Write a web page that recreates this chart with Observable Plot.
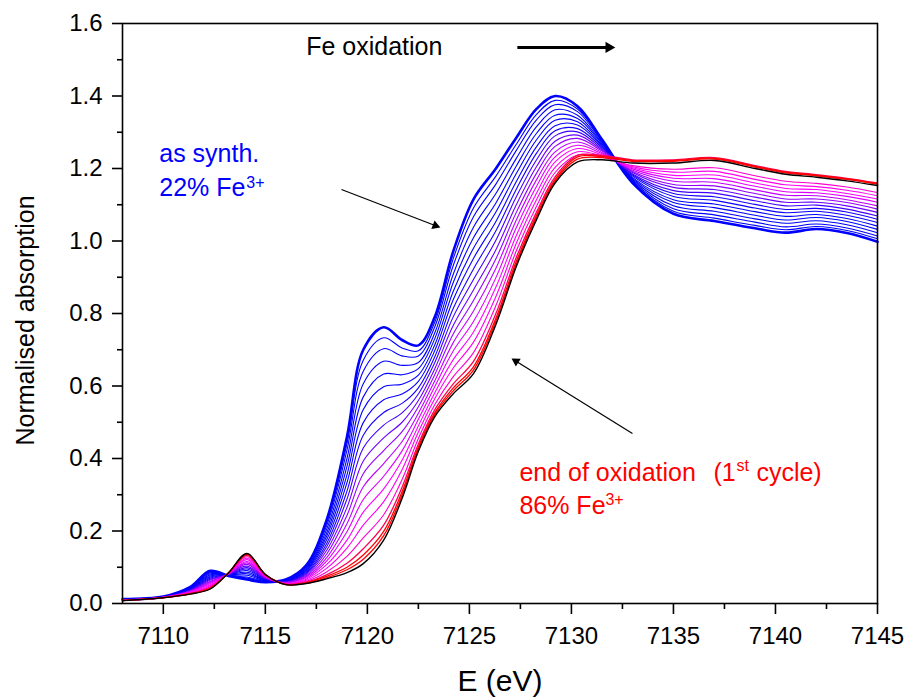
<!DOCTYPE html>
<html><head><meta charset="utf-8">
<script src="https://cdn.jsdelivr.net/npm/d3@7"></script>
<script src="https://cdn.jsdelivr.net/npm/@observablehq/plot@0.6"></script>
<style>html,body{margin:0;padding:0;background:#fff}#chart{width:908px;height:698px}</style>
</head><body><div id="chart"></div>
<script>
// Energy grid (eV)
const energy = [7108, 7110, 7111.3, 7112.3, 7113.2, 7114.1, 7115, 7116, 7117, 7118, 7119, 7119.8, 7120.8, 7121.7, 7122.5, 7123.3, 7124.2, 7125.2, 7126.3, 7127.3, 7128.3, 7129.2, 7130.3, 7131.5, 7133, 7135, 7137, 7139, 7140.5, 7142, 7143.5, 7145];

// Normalised absorption, one named array per spectrum (as synth. -> end of oxidation)
const asSynth = [0.012,0.019,0.045,0.090,0.076,0.066,0.059,0.066,0.105,0.230,0.460,0.700,0.762,0.727,0.712,0.790,0.970,1.115,1.200,1.285,1.365,1.400,1.372,1.280,1.160,1.075,1.055,1.035,1.023,1.033,1.022,0.998];
const scan02 = [0.012,0.019,0.044,0.088,0.076,0.070,0.060,0.065,0.103,0.222,0.441,0.671,0.733,0.705,0.697,0.776,0.950,1.091,1.179,1.267,1.350,1.388,1.364,1.277,1.163,1.082,1.063,1.043,1.031,1.040,1.029,1.006];
const scan03 = [0.012,0.019,0.043,0.085,0.077,0.073,0.061,0.065,0.100,0.214,0.423,0.641,0.703,0.683,0.683,0.763,0.931,1.067,1.157,1.250,1.335,1.376,1.357,1.274,1.166,1.089,1.072,1.052,1.039,1.047,1.036,1.014];
const scan04 = [0.011,0.019,0.042,0.082,0.077,0.078,0.062,0.064,0.097,0.204,0.400,0.606,0.668,0.657,0.665,0.746,0.907,1.038,1.131,1.228,1.316,1.362,1.347,1.271,1.169,1.097,1.082,1.061,1.049,1.056,1.045,1.023];
const scan05 = [0.011,0.018,0.041,0.079,0.078,0.082,0.064,0.063,0.094,0.194,0.378,0.570,0.633,0.631,0.648,0.730,0.884,1.009,1.105,1.207,1.298,1.347,1.338,1.268,1.172,1.106,1.092,1.071,1.058,1.065,1.054,1.032];
const scan06 = [0.011,0.018,0.040,0.076,0.079,0.086,0.065,0.062,0.091,0.185,0.355,0.535,0.598,0.605,0.630,0.713,0.860,0.980,1.080,1.186,1.280,1.333,1.329,1.264,1.175,1.114,1.102,1.081,1.068,1.073,1.062,1.041];
const scan07 = [0.011,0.018,0.039,0.073,0.079,0.091,0.066,0.061,0.088,0.175,0.333,0.499,0.562,0.578,0.613,0.697,0.837,0.952,1.054,1.164,1.261,1.318,1.320,1.261,1.179,1.123,1.112,1.091,1.078,1.082,1.071,1.051];
const scan08 = [0.010,0.018,0.037,0.070,0.080,0.095,0.067,0.060,0.085,0.165,0.310,0.464,0.527,0.552,0.595,0.680,0.813,0.923,1.028,1.143,1.243,1.304,1.310,1.258,1.182,1.131,1.122,1.101,1.087,1.090,1.080,1.060];
const scan09 = [0.010,0.018,0.036,0.067,0.080,0.099,0.069,0.060,0.082,0.156,0.288,0.429,0.492,0.526,0.578,0.664,0.790,0.894,1.002,1.122,1.225,1.290,1.301,1.254,1.185,1.139,1.132,1.111,1.097,1.099,1.088,1.069];
const scan10 = [0.010,0.017,0.035,0.064,0.081,0.103,0.070,0.059,0.079,0.146,0.265,0.393,0.457,0.500,0.560,0.647,0.766,0.865,0.976,1.100,1.206,1.275,1.292,1.251,1.189,1.148,1.142,1.121,1.107,1.107,1.097,1.079];
const scan11 = [0.010,0.017,0.034,0.061,0.081,0.108,0.071,0.058,0.076,0.136,0.243,0.358,0.422,0.474,0.543,0.631,0.743,0.836,0.951,1.079,1.188,1.261,1.283,1.248,1.192,1.156,1.152,1.131,1.116,1.116,1.106,1.088];
const scan12 = [0.009,0.017,0.033,0.058,0.082,0.112,0.072,0.057,0.073,0.126,0.220,0.322,0.386,0.447,0.525,0.614,0.719,0.807,0.925,1.058,1.170,1.246,1.273,1.244,1.195,1.165,1.162,1.141,1.126,1.125,1.114,1.097];
const scan13 = [0.009,0.017,0.032,0.055,0.082,0.116,0.074,0.056,0.070,0.117,0.198,0.287,0.351,0.421,0.508,0.598,0.696,0.778,0.899,1.037,1.152,1.232,1.264,1.241,1.199,1.173,1.172,1.151,1.136,1.133,1.123,1.107];
const scan14 = [0.009,0.017,0.031,0.052,0.083,0.121,0.075,0.055,0.067,0.107,0.175,0.252,0.316,0.395,0.490,0.581,0.672,0.749,0.873,1.015,1.133,1.218,1.255,1.237,1.202,1.181,1.182,1.160,1.145,1.142,1.131,1.116];
const scan15 = [0.009,0.017,0.029,0.049,0.083,0.125,0.076,0.055,0.064,0.097,0.153,0.216,0.281,0.369,0.473,0.565,0.649,0.721,0.847,0.994,1.115,1.203,1.246,1.234,1.205,1.190,1.192,1.170,1.155,1.150,1.140,1.125];
const scan16 = [0.009,0.016,0.028,0.046,0.084,0.129,0.078,0.054,0.061,0.087,0.130,0.181,0.245,0.342,0.455,0.548,0.625,0.692,0.822,0.973,1.097,1.189,1.237,1.231,1.208,1.198,1.202,1.180,1.165,1.159,1.149,1.134];
const scan17 = [0.008,0.016,0.027,0.044,0.084,0.133,0.079,0.053,0.059,0.079,0.111,0.151,0.216,0.321,0.440,0.534,0.605,0.668,0.800,0.955,1.081,1.177,1.236,1.236,1.224,1.224,1.230,1.208,1.192,1.183,1.173,1.160];
const scan18 = [0.008,0.016,0.027,0.042,0.085,0.135,0.079,0.053,0.057,0.075,0.100,0.134,0.199,0.308,0.432,0.526,0.594,0.653,0.787,0.944,1.072,1.170,1.232,1.233,1.222,1.222,1.228,1.206,1.190,1.181,1.171,1.158];
const scan19 = [0.008,0.016,0.026,0.041,0.085,0.137,0.080,0.052,0.056,0.071,0.093,0.122,0.187,0.299,0.426,0.521,0.586,0.644,0.779,0.937,1.066,1.165,1.226,1.230,1.220,1.220,1.226,1.204,1.188,1.180,1.170,1.157];
const endOxidation = [0.008,0.016,0.026,0.040,0.085,0.138,0.080,0.052,0.055,0.068,0.085,0.110,0.175,0.290,0.420,0.515,0.578,0.634,0.770,0.930,1.060,1.160,1.218,1.224,1.215,1.215,1.222,1.200,1.184,1.176,1.166,1.153];

// Tick values
const xTicks = [7110, 7115, 7120, 7125, 7130, 7135, 7140, 7145];
const xMinorTicks = [7112.5, 7117.5, 7122.5, 7127.5, 7132.5, 7137.5, 7142.5];
const yTicks = [0, 0.2, 0.4, 0.6, 0.8, 1.0, 1.2, 1.4, 1.6];
const yMinorTicks = [0.1, 0.3, 0.5, 0.7, 0.9, 1.1, 1.3, 1.5];

// Styles (not data)
const spectra = [asSynth, scan02, scan03, scan04, scan05, scan06, scan07, scan08, scan09, scan10, scan11, scan12, scan13, scan14, scan15, scan16, scan17, scan18, scan19, endOxidation];
const lineColors = ["#0000ff","#0000ff","#0000ff","#0000ff","#0000ff","#0000ff","#0800ff","#1800ff","#4000ff","#6a00ff","#9400ff","#bf00ff","#e000ff","#ff00ff","#ff00f0","#ff00d0","#ff0050","#ff0000","#ff0000","#000000"];
const lineWidths = spectra.map((_, k) => k === 0 ? 2.6 : k === spectra.length - 1 ? 1.4 : k >= 16 ? 1.3 : 1.1);

const font = "'Liberation Sans', Arial, Helvetica, sans-serif";

const lineMarks = spectra.map((s, k) =>
  Plot.line(s.map((v, j) => ({E: energy[j], v})), {
    x: "E", y: "v", stroke: lineColors[k], strokeWidth: lineWidths[k], curve: "catmull-rom"
  })
);

const txt = (E, v, t, color, size, dx = 0, dy = 0) =>
  Plot.text([{E, v, t}], {x: "E", y: "v", text: "t", fill: color, fontSize: size, textAnchor: "start", lineAnchor: "bottom", dx, dy, fontFamily: font});

const shaft = (a, b, c, d, w) =>
  Plot.link([{a, b, c, d}], {x1: "a", y1: "b", x2: "c", y2: "d", stroke: "#000", strokeWidth: w});
const head = (E, v, r, rotate, dx, dy) =>
  Plot.dot([{E, v}], {x: "E", y: "v", symbol: "triangle", r, rotate, fill: "#000", stroke: "none", dx, dy});

const chart = Plot.plot({
  width: 908,
  height: 698,
  marginLeft: 122,
  marginRight: 31,
  marginTop: 23,
  marginBottom: 95,
  style: {fontFamily: font, background: "#fff", color: "#000"},
  x: {domain: [7108, 7145]},
  y: {domain: [0, 1.6]},
  marks: [
    ...lineMarks,
    Plot.frame({stroke: "#000", strokeWidth: 1.6}),
    Plot.axisX({ticks: xTicks, tickSize: 11, tickPadding: 12, tickFormat: d => String(d), fontSize: 24, label: null, strokeWidth: 1.6}),
    Plot.axisX({ticks: xMinorTicks, tickSize: 6, tickFormat: () => "", label: null, strokeWidth: 1.6}),
    Plot.axisY({ticks: yTicks, tickSize: 10, tickPadding: 10, tickFormat: d3.format(".1f"), fontSize: 24, label: null, strokeWidth: 1.6}),
    Plot.axisY({ticks: yMinorTicks, tickSize: 5, tickFormat: () => "", label: null, strokeWidth: 1.6}),
    Plot.text(["E (eV)"], {frameAnchor: "bottom", dy: 87, textAnchor: "middle", lineAnchor: "bottom", fontSize: 30, fontFamily: font}),
    Plot.text(["Normalised absorption"], {frameAnchor: "left", rotate: -90, dx: -89, dy: 7, textAnchor: "middle", lineAnchor: "bottom", fontSize: 25, fontFamily: font}),
    // Annotations
    txt(7117.0, 1.512, "Fe oxidation", "#000", 25),
    shaft(7127.35, 1.534, 7131.8, 1.534, 3),
    head(7132.15, 1.534, 4.2, 90, -6.5, 0),
    txt(7109.8, 1.217, "as synth.", "#0000ff", 25),
    txt(7109.8, 1.123, "22% Fe", "#0000ff", 25),
    txt(7109.8, 1.123, "3+", "#0000ff", 16, 87, -8),
    shaft(7118.73, 1.142, 7123.35, 1.042, 1.2),
    head(7123.58, 1.037, 3.4, 111, -5.0, -1.9),
    txt(7127.45, 0.339, "end of oxidation", "#ff0000", 25),
    txt(7127.45, 0.339, "(1", "#ff0000", 25, 194, 0),
    txt(7127.45, 0.339, "st", "#ff0000", 16, 217, -10),
    txt(7127.45, 0.339, "cycle)", "#ff0000", 25, 237, 0),
    txt(7127.45, 0.248, "86% Fe", "#ff0000", 25),
    txt(7127.45, 0.248, "3+", "#ff0000", 16, 86, -9),
    shaft(7132.99, 0.469, 7127.27, 0.669, 1.2),
    head(7127.06, 0.676, 3.4, -58, 4.6, 2.85)
  ]
});
document.getElementById("chart").appendChild(chart);
</script>
</body></html>
